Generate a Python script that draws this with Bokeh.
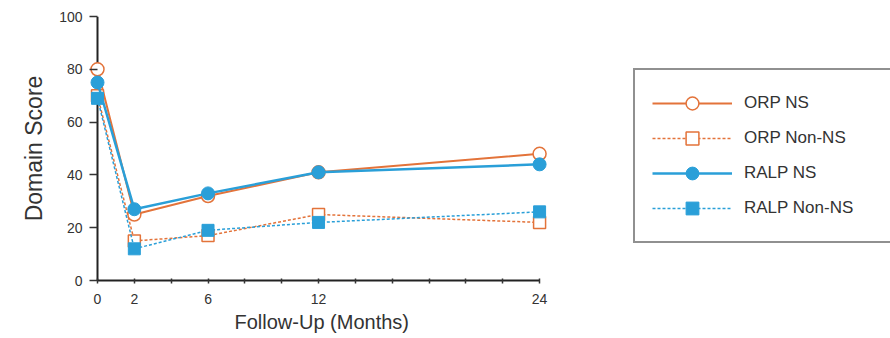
from bokeh.plotting import figure
from bokeh.models import Range1d, FixedTicker, Legend, LegendItem, Span, Title
from bokeh.embed import file_html
from bokeh.resources import INLINE

# ---- data ----
months = [0, 2, 6, 12, 24]
orp_ns = [80, 25, 32, 41, 48]
orp_non_ns = [70, 15, 17, 25, 22]
ralp_ns = [75, 27, 33, 41, 44]
ralp_non_ns = [69, 12, 19, 22, 26]
x_ticks = [0, 2, 4, 6, 8, 10, 12, 14, 16, 18, 20, 22, 24]
x_tick_labels = {0: "0", 2: "2", 6: "6", 12: "12", 24: "24"}
y_ticks = [0, 20, 40, 60, 80, 100]
series_names = ["ORP NS", "ORP Non-NS", "RALP NS", "RALP Non-NS"]
x_title = "Follow-Up (Months)"
y_title = "Domain Score"

ORANGE = "#E3733A"
BLUE = "#2A9FD8"
FONT = "Liberation Sans"

# ---- layout (page coordinates) ----
W, H = 890, 338
axis_x_page = 97          # where month 0 sits
px_per_month = 18.42
frame_left = 89
frame_right = 890
frame_top = 16
frame_bottom = 280
x_start = -(axis_x_page - frame_left) / px_per_month
x_end = x_start + (frame_right - frame_left) / px_per_month

p = figure(width=W, height=H, output_backend="svg", toolbar_location=None,
           x_range=Range1d(x_start, x_end), y_range=Range1d(0, 100),
           min_border_left=frame_left, min_border_right=W - frame_right,
           min_border_top=frame_top, min_border_bottom=H - frame_bottom)
p.outline_line_color = None
p.xgrid.visible = False
p.ygrid.visible = False
p.background_fill_color = "white"
p.border_fill_color = "white"

# x axis
xa = p.xaxis[0]
xa.bounds = (0, 24)
xa.ticker = FixedTicker(ticks=x_ticks)
xa.major_label_overrides = {t: x_tick_labels.get(t, "") for t in x_ticks}
xa.minor_tick_line_color = None
xa.major_tick_in = 2
xa.major_tick_out = 3
xa.axis_line_width = 2
xa.axis_line_color = "#222222"
xa.major_tick_line_color = "#333333"
xa.major_tick_line_width = 1.5
xa.major_label_text_font = FONT
xa.major_label_text_font_size = "14px"
xa.major_label_text_color = "#333333"
xa.major_label_standoff = 10

# x axis title, centred under the 0-24 span (placed in the bottom panel)
x_title_obj = Title(text=x_title, align="left", offset=145, standoff=4,
                    text_font=FONT, text_font_size="20px", text_font_style="normal",
                    text_color="#333333")
p.add_layout(x_title_obj, "below")

# y axis: labels at the frame edge, ticks reaching in to month 0, line drawn at 0
ya = p.yaxis[0]
ya.ticker = FixedTicker(ticks=y_ticks)
ya.minor_tick_line_color = None
ya.axis_line_color = None
ya.major_tick_in = axis_x_page - frame_left
ya.major_tick_out = 0
ya.major_tick_line_color = "#333333"
ya.major_tick_line_width = 1.5
ya.major_label_text_font = FONT
ya.major_label_text_font_size = "14px"
ya.major_label_text_color = "#333333"
ya.major_label_standoff = 7
ya.axis_label = y_title
ya.axis_label_text_font = FONT
ya.axis_label_text_font_size = "23px"
ya.axis_label_text_font_style = "normal"
ya.axis_label_text_color = "#333333"
ya.axis_label_standoff = 9

y_line = Span(location=0, dimension="height", line_color="#222222", line_width=2,
              level="underlay")
p.add_layout(y_line)

# series
l1 = p.line(months, orp_ns, line_color=ORANGE, line_width=2)
m1 = p.scatter(months, orp_ns, marker="circle", size=13, fill_color="white",
               line_color=ORANGE, line_width=1.5)
l2 = p.line(months, orp_non_ns, line_color=ORANGE, line_width=1.5, line_dash="3 2")
m2 = p.scatter(months, orp_non_ns, marker="square", size=12, fill_color="white",
               line_color=ORANGE, line_width=1.5)
l3 = p.line(months, ralp_ns, line_color=BLUE, line_width=2.5)
m3 = p.scatter(months, ralp_ns, marker="circle", size=13, fill_color=BLUE,
               line_color=BLUE, line_width=1)
l4 = p.line(months, ralp_non_ns, line_color=BLUE, line_width=1.5, line_dash="3 2")
m4 = p.scatter(months, ralp_non_ns, marker="square", size=12, fill_color=BLUE,
               line_color=BLUE, line_width=1)

# legend inside the (wide) frame; bottom-left corner at page (633, 243)
legend = Legend(items=[
    LegendItem(label=series_names[0], renderers=[l1, m1]),
    LegendItem(label=series_names[1], renderers=[l2, m2]),
    LegendItem(label=series_names[2], renderers=[l3, m3]),
    LegendItem(label=series_names[3], renderers=[l4, m4]),
], location=(633 - frame_left, frame_bottom - 243))
legend.border_line_color = "#222222"
legend.border_line_width = 2
legend.background_fill_color = "white"
legend.background_fill_alpha = 1
legend.padding = 17
legend.spacing = 3
legend.glyph_width = 80
legend.glyph_height = 32
legend.label_height = 32
legend.label_width = 129
legend.label_standoff = 12
legend.label_text_font = FONT
legend.label_text_font_size = "17px"
legend.label_text_color = "#333333"
legend.margin = 0
p.add_layout(legend, "center")

open("out.html", "w").write(file_html(p, INLINE))
